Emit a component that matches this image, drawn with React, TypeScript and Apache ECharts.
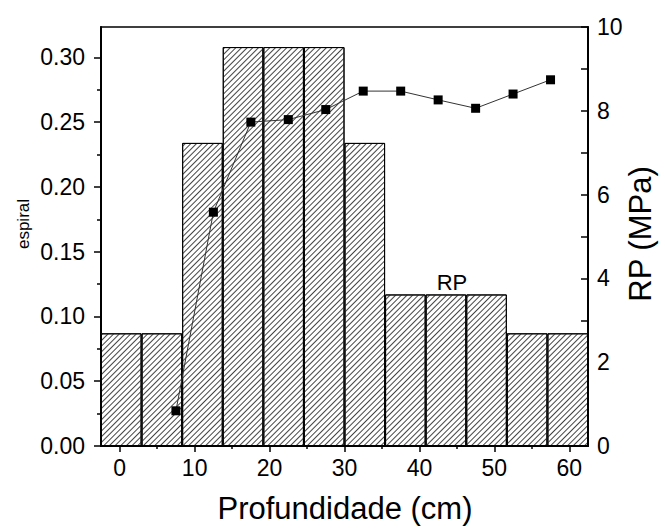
import React, { useEffect, useRef } from 'react';
import * as echarts from 'echarts';

// Histogram bins (12 equal bins spanning the depth axis)
const binLabels = ['b1', 'b2', 'b3', 'b4', 'b5', 'b6', 'b7', 'b8', 'b9', 'b10', 'b11', 'b12'];
const binValues = [0.087, 0.087, 0.234, 0.308, 0.308, 0.308, 0.234, 0.117, 0.117, 0.117, 0.087, 0.087];

// Penetration resistance (RP) line
const rpDepths = [7.5, 12.5, 17.5, 22.5, 27.5, 32.5, 37.5, 42.5, 47.5, 52.5, 57.5];
const rpValues = [0.84, 5.58, 7.73, 7.79, 8.03, 8.47, 8.47, 8.26, 8.06, 8.4, 8.74];

// Axis ticks
const xMajorTicks = [0, 10, 20, 30, 40, 50, 60];
const xMinorTicks = [5, 15, 25, 35, 45, 55];
const leftMajorTicks = [0, 0.05, 0.1, 0.15, 0.2, 0.25, 0.3];
const leftMinorTicks = [0.025, 0.075, 0.125, 0.175, 0.225, 0.275];
const rightTicks = [0, 1, 2, 3, 4, 5, 6, 7, 8, 9, 10];

const FONT = 'Liberation Sans, Arial, sans-serif';
const X_MIN = -2.5;
const X_MAX = 62.5;
const L_MAX = 0.3235;

export default function App() {
  const ref = useRef<HTMLDivElement>(null);

  useEffect(() => {
    if (!ref.current) return;
    const chart = echarts.init(ref.current, null, { renderer: 'svg' });
    const option: any = {
      animation: false,
      backgroundColor: '#fff',
      grid: {
        left: 101,
        right: 77,
        top: 27,
        bottom: 83,
        show: true,
        borderColor: '#000',
        borderWidth: 1.5,
        backgroundColor: 'transparent',
      },
      xAxis: [
        {
          type: 'value',
          min: X_MIN,
          max: X_MAX,
          position: 'bottom',
          axisLine: { show: true, onZero: false, lineStyle: { color: '#000', width: 2 } },
          axisTick: { show: true, customValues: xMajorTicks, length: 6, inside: false, lineStyle: { color: '#000', width: 1.5 } },
          axisLabel: { show: true, customValues: xMajorTicks, margin: 10, fontSize: 23, fontFamily: FONT, color: '#000' },
          splitLine: { show: false },
        },
        {
          type: 'value',
          min: X_MIN,
          max: X_MAX,
          position: 'bottom',
          axisLine: { show: false, onZero: false },
          axisTick: { show: true, customValues: xMinorTicks, length: 3, inside: false, lineStyle: { color: '#000', width: 1.5 } },
          axisLabel: { show: false },
          splitLine: { show: false },
        },
        {
          type: 'category',
          data: binLabels,
          position: 'bottom',
          boundaryGap: true,
          show: false,
          axisLine: { onZero: false },
        },
      ],
      yAxis: [
        {
          type: 'value',
          min: 0,
          max: L_MAX,
          position: 'left',
          axisLine: { show: true, onZero: false, lineStyle: { color: '#000', width: 2 } },
          axisTick: { show: true, customValues: leftMajorTicks, length: 7, inside: false, lineStyle: { color: '#000', width: 1.5 } },
          axisLabel: {
            show: true,
            customValues: leftMajorTicks,
            formatter: (v: number) => v.toFixed(2),
            margin: 16,
            fontSize: 23,
            fontFamily: FONT,
            color: '#000',
          },
          splitLine: { show: false },
        },
        {
          type: 'value',
          min: 0,
          max: L_MAX,
          position: 'left',
          axisLine: { show: false, onZero: false },
          axisTick: { show: true, customValues: leftMinorTicks, length: 4, inside: false, lineStyle: { color: '#000', width: 1.5 } },
          axisLabel: { show: false },
          splitLine: { show: false },
        },
        {
          type: 'value',
          min: 0,
          max: 10,
          interval: 2,
          position: 'right',
          axisLine: { show: true, onZero: false, lineStyle: { color: '#000', width: 2 } },
          axisTick: { show: true, customValues: rightTicks, length: 7, inside: true, lineStyle: { color: '#000', width: 1.5 } },
          axisLabel: { show: true, margin: 9, fontSize: 23, fontFamily: FONT, color: '#000' },
          splitLine: { show: false },
        },
      ],
      series: [
        {
          type: 'bar',
          xAxisIndex: 2,
          yAxisIndex: 0,
          data: binValues,
          barWidth: '100%',
          barCategoryGap: '0%',
          itemStyle: {
            color: '#fff',
            borderColor: '#000',
            borderWidth: 1,
            decal: {
              symbol: 'rect',
              symbolSize: 1,
              dashArrayX: [1, 0],
              dashArrayY: [0.9, 2.9],
              rotation: -Math.PI / 4,
              color: '#444',
              backgroundColor: '#fff',
            },
          },
          z: 2,
        },
        {
          type: 'line',
          xAxisIndex: 0,
          yAxisIndex: 2,
          data: rpDepths.map((d, i) => [d, rpValues[i]]),
          symbol: 'rect',
          symbolSize: 9,
          itemStyle: { color: '#000' },
          lineStyle: { color: '#333', width: 1 },
          z: 5,
        },
      ],
      graphic: [
        {
          type: 'text',
          x: 345,
          y: 508,
          style: {
            text: 'Profundidade (cm)',
            fontSize: 31,
            fontFamily: FONT,
            fill: '#000',
            textAlign: 'center',
            textVerticalAlign: 'middle',
          },
        },
        {
          type: 'text',
          x: 640,
          y: 234,
          rotation: Math.PI / 2,
          style: {
            text: 'RP (MPa)',
            fontSize: 31,
            fontFamily: FONT,
            fill: '#000',
            textAlign: 'center',
            textVerticalAlign: 'middle',
          },
        },
        {
          type: 'text',
          x: 23,
          y: 224,
          rotation: Math.PI / 2,
          style: {
            text: 'espiral',
            fontSize: 17,
            fontFamily: FONT,
            fill: '#000',
            textAlign: 'center',
            textVerticalAlign: 'middle',
          },
        },
        {
          type: 'text',
          x: 452,
          y: 282,
          z: 10,
          style: {
            text: 'RP',
            fontSize: 22,
            fontFamily: FONT,
            fill: '#000',
            textAlign: 'center',
            textVerticalAlign: 'middle',
          },
        },
      ],
    };
    chart.setOption(option);
    return () => chart.dispose();
  }, []);

  return (
    <div
      ref={ref}
      style={{ position: 'fixed', left: 0, top: 0, width: 665, height: 529, background: '#fff' }}
    />
  );
}
